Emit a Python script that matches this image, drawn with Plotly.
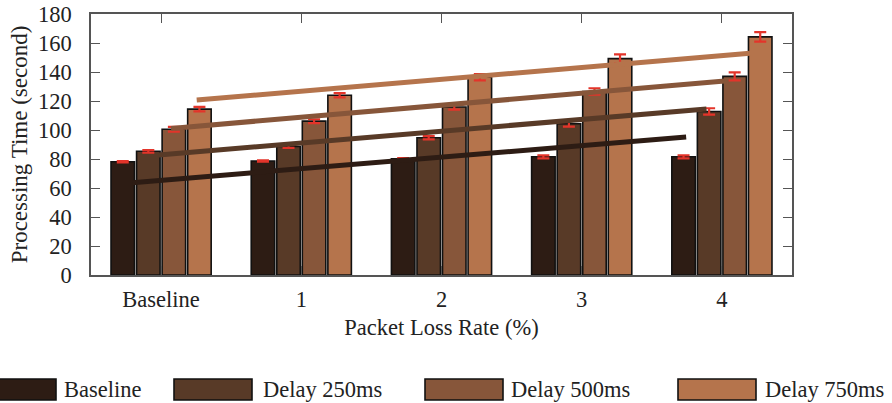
import plotly.graph_objects as go

# ---- data ----
categories = ["Baseline", "1", "2", "3", "4"]
series_names = ["Baseline", "Delay 250ms", "Delay 500ms", "Delay 750ms"]
baseline = [78.1, 78.6, 80.1, 81.5, 81.5]
delay250 = [85.3, 88.6, 94.7, 104.3, 112.8]
delay500 = [100.5, 106.1, 115.9, 126.6, 137.0]
delay750 = [114.4, 124.0, 136.4, 149.2, 164.2]
err_baseline = [0.45, 0.5, 0.6, 1.0, 1.0]
err_delay250 = [0.9, 1.0, 1.1, 2.0, 2.2]
err_delay500 = [1.6, 1.3, 1.8, 2.2, 2.8]
err_delay750 = [1.5, 1.5, 2.2, 3.0, 3.3]
# trend lines: (x start, x end) in category units, (y start, y end)
trend_x = [[-0.205, 3.745], [-0.017, 3.89], [0.071, 4.02], [0.254, 4.2]]
trend_y = [[63.7, 95.2], [82.8, 114.5], [101.1, 133.8], [120.7, 152.9]]

colors = ["#2d1c14", "#583a27", "#87563a", "#b5744c"]
values = [baseline, delay250, delay500, delay750]
errors = [err_baseline, err_delay250, err_delay500, err_delay750]

FONT = "Liberation Serif, Times New Roman, serif"
W, H = 892, 403
L, R, T, B = 91, 100, 14, 128
PW, PH = W - L - R, H - T - B

fig = go.Figure()
xs = list(range(len(categories)))
for name, vals, errs, col in zip(series_names, values, errors, colors):
    fig.add_trace(go.Bar(
        x=xs, y=vals, name=name, marker=dict(color=col, line=dict(color="#111111", width=1.6)),
        error_y=dict(type="data", array=errs, visible=True, color="#e3342a", thickness=2.2, width=6),
        showlegend=False,
    ))

for tx, ty, col in zip(trend_x, trend_y, colors):
    fig.add_trace(go.Scatter(x=tx, y=ty, mode="lines", line=dict(color=col, width=5),
                             showlegend=False, hoverinfo="skip"))

# manual legend (wide swatches like the original)
def px_x(p):
    return (p - L) / PW

def px_y(p):
    return (H - B - p) / PH

sw_x0 = [-22, 174, 425, 678]
txt_x0 = [62, 261, 509, 763]
shapes = []
annotations = []
for name, col, sx, tx in zip(series_names, colors, sw_x0, txt_x0):
    shapes.append(dict(type="rect", xref="paper", yref="paper",
                       x0=px_x(sx), x1=px_x(sx + 78), y0=px_y(400), y1=px_y(379),
                       fillcolor=col, line=dict(color="#111111", width=1.6)))
    annotations.append(dict(text=name, xref="paper", yref="paper", x=px_x(tx), y=px_y(389.5),
                            xanchor="left", yanchor="middle", showarrow=False,
                            font=dict(family=FONT, size=22.5, color="#222222")))

axis_common = dict(showline=True, linecolor="#555555", linewidth=1.5, mirror="ticks",
                   ticks="inside", ticklen=9, tickcolor="#555555", tickwidth=1.3,
                   showgrid=False, zeroline=False, automargin=False,
                   tickfont=dict(family=FONT, size=22.5, color="#222222"))

fig.update_layout(
    width=W, height=H, margin=dict(l=L, r=R, t=T, b=B),
    paper_bgcolor="white", plot_bgcolor="white",
    barmode="group", bargap=0.271, bargroupgap=0.08,
    font=dict(family=FONT, size=22.5, color="#222222"),
    xaxis=dict(range=[-0.5, 4.5], tickvals=xs, ticktext=categories,
               title=dict(text="Packet Loss Rate (%)", font=dict(family=FONT, size=22.5), standoff=8),
               ticklabelstandoff=3, **axis_common),
    yaxis=dict(range=[0, 180], tickvals=list(range(0, 181, 20)),
               title=dict(text="Processing Time (second)", font=dict(family=FONT, size=23), standoff=4),
               ticklabelstandoff=13, **axis_common),
    shapes=shapes, annotations=annotations,
)

fig.write_html("out.html", config={"displayModeBar": False},
               post_script="document.body.style.margin='0px';document.body.style.overflow='hidden';")
